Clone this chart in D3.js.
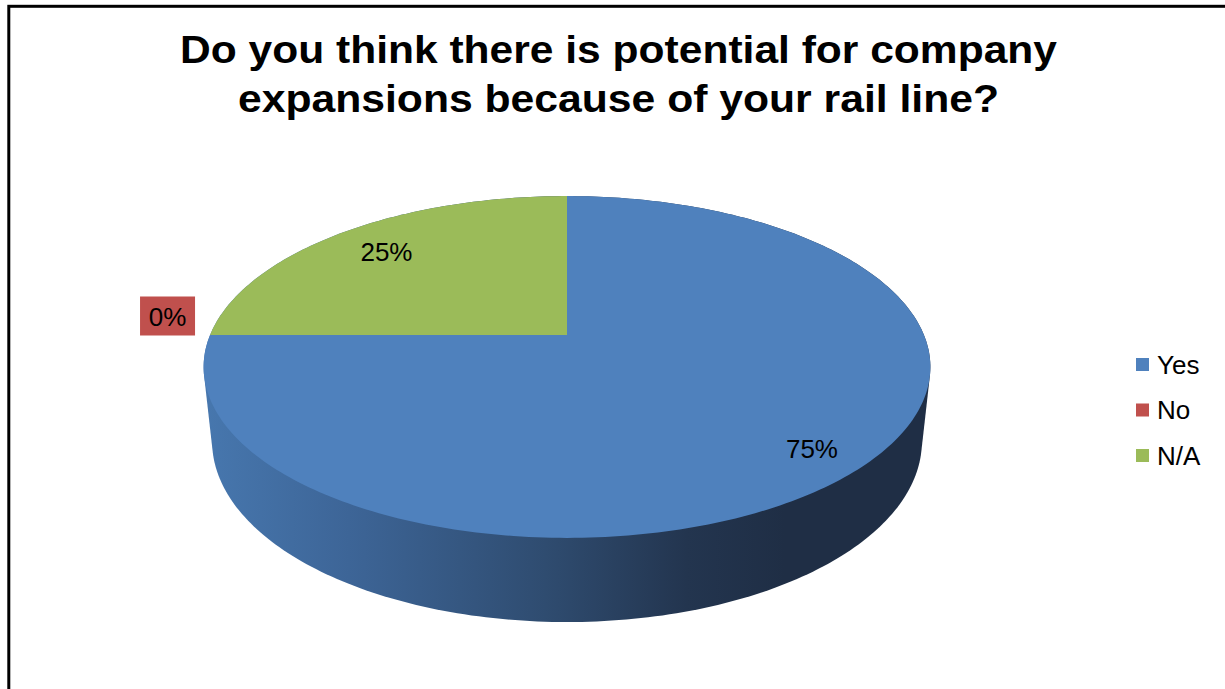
<!DOCTYPE html>
<html>
<head>
<meta charset="utf-8">
<script src="https://cdn.jsdelivr.net/npm/d3@7/dist/d3.min.js"></script>
<style>
  html, body { margin: 0; padding: 0; background: #ffffff; }
  svg { display: block; font-family: "Liberation Sans", Arial, sans-serif; }
</style>
</head>
<body>
<svg id="chart" width="1225" height="689"></svg>
<script>
// Survey answers
const categories = ["Yes", "No", "N/A"];
const values = [75, 0, 25];
const valueLabels = ["75%", "0%", "25%"];
const titleLines = ["Do you think there is potential for company", "expansions because of your rail line?"];

const colors = d3.scaleOrdinal()
  .domain(categories)
  .range(["#4f81bd", "#c0504d", "#9bbb59"]);

const svg = d3.select("#chart");

// Chart frame
svg.append("rect")
  .attr("x", 8.8).attr("y", 6.3)
  .attr("width", 1400).attr("height", 900)
  .attr("fill", "none").attr("stroke", "#000").attr("stroke-width", 3);

// Title (wide bold face)
const titleWidths = [877, 761];
svg.append("text")
  .attr("text-anchor", "middle")
  .attr("font-weight", "bold")
  .attr("font-size", 38)
  .attr("fill", "#000")
  .selectAll("tspan")
  .data(titleLines)
  .join("tspan")
  .attr("x", 618.5)
  .attr("y", (d, i) => 63 + i * 49)
  .attr("textLength", (d, i) => titleWidths[i])
  .attr("lengthAdjust", "spacingAndGlyphs")
  .text(d => d);

// Perspective camera for the tilted disc (unit radius, depth h)
const cam = {
  cx: 567, cy: 335,     // screen position of the disc centre
  f: 1692,              // focal length
  dist: 4.74,           // camera distance
  sin: 0.462, cos: 0.887, // elevation of the view
  depth: 0.237          // thickness of the pie
};

// angle t: clockwise from the far point, r: radius, z: height (0 = top face)
function project(t, r, z) {
  const x = r * Math.sin(t);
  const y = -r * Math.cos(t);
  const v = y * cam.sin - z * cam.cos;
  const D = cam.dist - (y * cam.cos + z * cam.sin);
  return [cam.cx + cam.f * x / D, cam.cy + cam.f * v / D];
}

const pie = d3.pie().sort(null).value(d => d.value);
const arcs = pie(categories.map((c, i) => ({ name: c, value: values[i], label: valueLabels[i] })));

// Gradient used on the visible outer wall
const defs = svg.append("defs");
const grad = defs.append("linearGradient")
  .attr("id", "wall")
  .attr("gradientUnits", "userSpaceOnUse")
  .attr("x1", 204).attr("x2", 930).attr("y1", 0).attr("y2", 0);
[[0, "#4777ae"], [0.2, "#3d6597"], [0.47, "#2f4c70"], [0.665, "#23354f"], [0.8, "#1f2e45"], [1, "#1f2e45"]]
  .forEach(([o, c]) => grad.append("stop").attr("offset", o).attr("stop-color", c));

// Outer wall: hull of the top and bottom rims
const rim = [];
d3.range(0, 361, 1).forEach(deg => {
  const t = deg * Math.PI / 180;
  rim.push(project(t, 1, 0));
  rim.push(project(t, 1, -cam.depth));
});
const hull = d3.polygonHull(rim);
svg.append("path")
  .attr("d", "M" + hull.map(p => p.join(",")).join("L") + "Z")
  .attr("fill", "url(#wall)");

// Top faces of the slices
const line = d3.line();
svg.append("g")
  .selectAll("path")
  .data(arcs.filter(a => a.endAngle > a.startAngle))
  .join("path")
  .attr("d", a => {
    const n = Math.max(2, Math.ceil((a.endAngle - a.startAngle) * 180 / Math.PI));
    const pts = [project(0, 0, 0)];
    d3.range(n + 1).forEach(i => {
      pts.push(project(a.startAngle + (a.endAngle - a.startAngle) * i / n, 1, 0));
    });
    return line(pts) + "Z";
  })
  .attr("fill", a => colors(a.data.name));

// Data labels
const labelRadius = { "Yes": 0.86, "N/A": 0.79 };
const labels = svg.append("g").attr("font-size", 26).attr("fill", "#000");
arcs.forEach(a => {
  const mid = (a.startAngle + a.endAngle) / 2;
  if (a.data.value > 0) {
    const [lx, ly] = project(mid, labelRadius[a.data.name], 0);
    labels.append("text")
      .attr("x", lx).attr("y", ly + 9.5)
      .attr("text-anchor", "middle")
      .text(a.data.label);
  } else {
    // zero-size slice: label sits outside the rim, on a filled box
    const [ex, ey] = project(mid, 1, 0);
    const w = 55, h = 39;
    const bx = ex - 15 - w, by = ey - 19 - h / 2;
    labels.append("rect")
      .attr("x", bx).attr("y", by).attr("width", w).attr("height", h)
      .attr("fill", colors(a.data.name));
    labels.append("text")
      .attr("x", bx + w / 2).attr("y", by + h / 2 + 9.5)
      .attr("text-anchor", "middle")
      .text(a.data.label);
  }
});

// Legend
const legend = svg.append("g")
  .selectAll("g")
  .data(categories)
  .join("g")
  .attr("transform", (d, i) => `translate(1136, ${358 + i * 45.5})`);
legend.append("rect")
  .attr("width", 13).attr("height", 13)
  .attr("fill", d => colors(d));
legend.append("text")
  .attr("x", 21).attr("y", 15.5)
  .attr("font-size", 26)
  .attr("fill", "#000")
  .text(d => d);
</script>
</body>
</html>
